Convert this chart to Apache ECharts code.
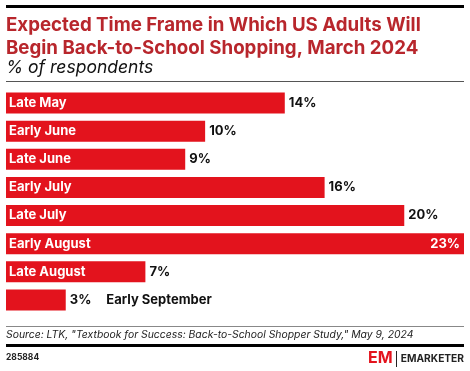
<!DOCTYPE html>
<html><head><meta charset="utf-8">
<script src="https://cdn.jsdelivr.net/npm/echarts@6/dist/echarts.min.js"></script>
<style>html,body{margin:0;padding:0;background:#fff}#c{width:470px;height:371px}</style>
</head><body><div id="c"></div>
<script>
const categories = ["Late May","Early June","Late June","Early July","Late July","Early August","Late August","Early September"];
const values = [14,10,9,16,20,23,7,3];
const titleText = "Expected Time Frame in Which US Adults Will\nBegin Back-to-School Shopping, March 2024";
const subtitleText = "% of respondents";
const sourceText = 'Source: LTK, "Textbook for Success: Back-to-School Shopper Study," May 9, 2024';
const chartId = "285884";

const RED = "#e3131d";
const FONT = "Inter, 'Noto Sans', sans-serif";
const maxV = Math.max(...values);

const nameData = values.map((v,i)=>({
  value: v,
  label: { show: v >= 4 }
}));
const valueData = values.map((v,i)=>{
  if (v === maxV) return { value: v, label: { position: 'insideRight', color: '#fff' } };
  if (v < 4) return { value: v, label: { formatter: v + '%{gap|}{nm|' + categories[i] + '}' } };
  return v;
});

const chart = echarts.init(document.getElementById('c'));
chart.setOption({
  animation: false,
  grid: { left: 6, right: 6, top: 89, height: 225, containLabel: false },
  xAxis: { type: 'value', min: 0, max: maxV, show: false },
  yAxis: { type: 'category', data: categories, inverse: true, show: false },
  series: [
    {
      type: 'bar', data: nameData, barWidth: 21, itemStyle: { color: RED },
      label: { show: true, position: 'insideLeft', distance: 3, formatter: '{b}', color: '#fff',
        fontFamily: FONT, fontWeight: 'bold', fontSize: 13 }
    },
    {
      type: 'bar', data: valueData, barWidth: 21, barGap: '-100%', itemStyle: { color: 'transparent' },
      label: { show: true, position: 'right', distance: 4, formatter: '{c}%', color: '#111',
        fontFamily: FONT, fontWeight: 'bold', fontSize: 13,
        rich: { gap: { width: 15 }, nm: { fontFamily: FONT, fontWeight: 'bold', fontSize: 13, color: '#111' } } }
    }
  ],
  graphic: [
    { type: 'rect', shape: { x: 6, y: 5, width: 458, height: 3 }, style: { fill: '#000' } },
    { type: 'text', left: 6, top: 14, style: { text: titleText, fill: '#b8262c', font: "bold 18.7px " + FONT, lineHeight: 23 } },
    { type: 'text', left: 6, top: 59, style: { text: subtitleText, fill: '#111', font: "italic 17.5px " + FONT } },
    { type: 'rect', shape: { x: 6, y: 81, width: 458, height: 1 }, style: { fill: '#555' } },
    { type: 'rect', shape: { x: 6, y: 326, width: 458, height: 1 }, style: { fill: '#888' } },
    { type: 'text', left: 6, top: 330, style: { text: sourceText, fill: '#222', font: "italic 10.4px " + FONT } },
    { type: 'rect', shape: { x: 6, y: 344, width: 458, height: 3 }, style: { fill: '#000' } },
    { type: 'text', left: 6, top: 353, style: { text: chartId, fill: '#222', font: "bold 8.5px " + FONT } },
    { type: 'text', left: 368, top: 350, style: { text: 'EM', fill: RED, font: "bold 16px " + FONT } },
    { type: 'rect', shape: { x: 396, y: 351, width: 1, height: 16 }, style: { fill: '#222' } },
    { type: 'text', right: 6, top: 354, style: { text: 'EMARKETER', fill: '#222', font: "bold 10.2px " + FONT } }
  ]
});
</script></body></html>
